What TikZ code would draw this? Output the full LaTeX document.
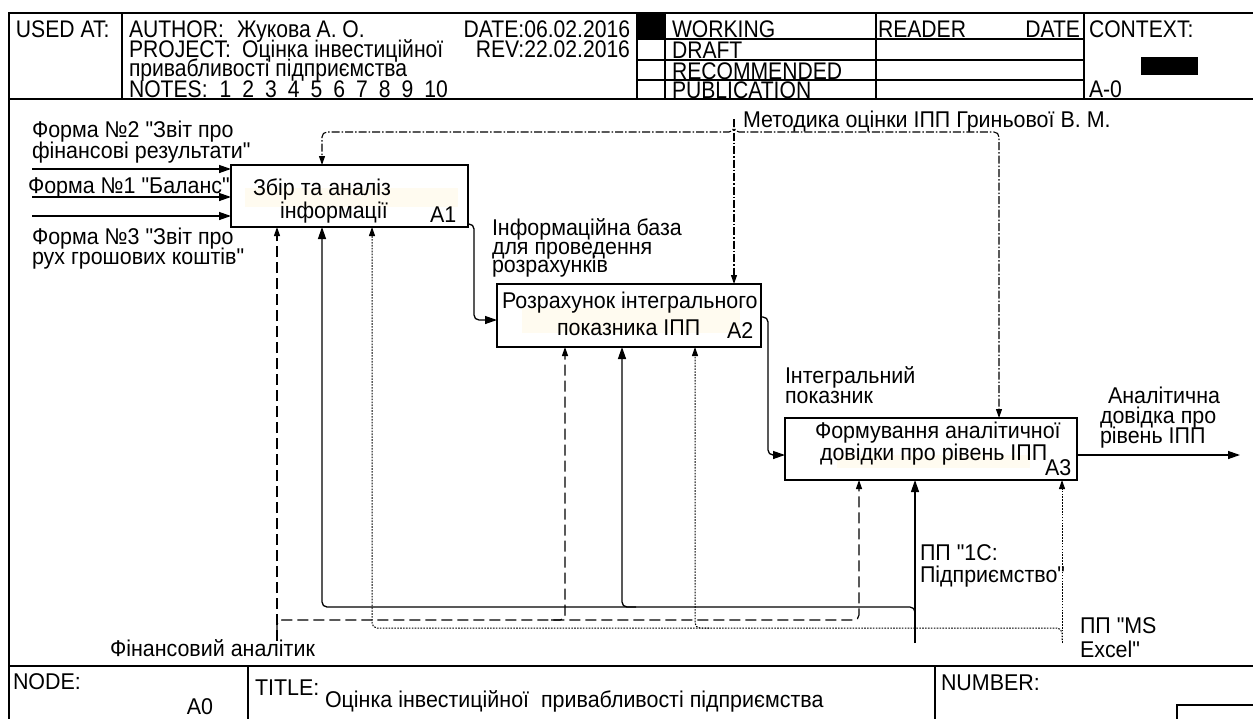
\documentclass[tikz,border=0pt]{standalone}
\usepackage{fontspec}
\setmainfont{Liberation Sans}[Ligatures=TeXOff]
\newfontfamily\mainlab{Liberation Sans}[Ligatures=TeXOff, FakeStretch=0.94]
\newfontfamily\hdrlab{Liberation Sans}[Ligatures=TeXOff, FakeStretch=0.88]
\usetikzlibrary{arrows.meta}
\definecolor{faint}{RGB}{255,251,240}
\begin{document}
\begin{tikzpicture}[x=1pt,y=-1pt,
  frm/.style={line width=1.8pt},
  grid/.style={line width=1.5pt},
  idefbox/.style={draw, line width=1.6pt, fill=white, inner sep=0pt, outer sep=0pt, anchor=north west},
  lbl/.style={anchor=base west, inner sep=0pt, outer sep=0pt, font=\mainlab\fontsize{22.8}{20}\selectfont},
  lble/.style={lbl, anchor=base east},
  hdr/.style={anchor=base west, inner sep=0pt, outer sep=0pt, font=\hdrlab\fontsize{24}{20}\selectfont},
  hdre/.style={hdr, anchor=base east},
  sol/.style={line width=1.3pt, rounded corners=5pt, -{Triangle[length=12pt,width=8pt]}},
  dsh/.style={line width=1.2pt, rounded corners=5pt, dash pattern=on 11pt off 5pt, -{Triangle[length=9pt,width=6pt]}},
  dtt/.style={line width=1pt, rounded corners=5pt, dash pattern=on 1.6pt off 1.3pt, -{Triangle[length=9pt,width=6pt]}},
  ctl/.style={line width=1.1pt, rounded corners=5pt, dash pattern=on 8pt off 2pt on 1.5pt off 2pt, -{Triangle[length=9pt,width=6pt]}}
]
\useasboundingbox (0,0) rectangle (1253,718);
\clip (0,0) rectangle (1253,718);

% ---------- frame ----------
\draw[frm] (9,730) -- (9,13) -- (1270,13);
\draw[frm] (9,99) -- (1270,99);
\draw[frm] (9,666) -- (1270,666);
\foreach \xx in {122,637,665,876,1084} \draw[grid] (\xx,13) -- (\xx,99);
\foreach \yy in {39,60,80} \draw[grid] (637,\yy) -- (1084,\yy);
\fill (637,13) rectangle (665,39);
\fill (1141,57) rectangle (1198,75);
\draw[frm] (248,666) -- (248,730);
\draw[frm] (935,666) -- (935,730);
\draw[grid] (1177,730) -- (1177,705) -- (1270,705);

% ---------- header texts ----------
\node[hdr] (usedat) at (16,37) {USED AT:};
\node[hdr] (author) at (129,37) {AUTHOR:\hspace{13pt}Жукова А. О.};
\node[hdre] (date) at (630,37) {DATE:06.02.2016};
\node[hdr] (project) at (129,57) {PROJECT:\hspace{11pt}Оцінка інвестиційної};
\node[hdre] (rev) at (630,57) {REV:22.02.2016};
\node[hdr] (project2) at (129,76) {привабливості підприємства};
\node[hdr] (notes) at (129,97) {NOTES:\hspace{12pt}1\hspace{11pt}2\hspace{11pt}3\hspace{11pt}4\hspace{11pt}5\hspace{11pt}6\hspace{11pt}7\hspace{11pt}8\hspace{11pt}9\hspace{11pt}10};
\node[hdr] (working) at (672,37) {WORKING};
\node[hdr] (draft) at (672,58) {DRAFT};
\node[hdr] (recom) at (672,79) {RECOMMENDED};
\node[hdr] (public) at (672,98) {PUBLICATION};
\node[hdr] (reader) at (878,37) {READER};
\node[hdre] (rdate) at (1080,37) {DATE};
\node[hdr] (context) at (1089,37) {CONTEXT:};
\node[hdr] (azero) at (1089,97) {A-0};

% ---------- footer texts ----------
\node[lbl] (nodelbl) at (13,689) {NODE:};
\node[lble] (nodeval) at (213,714) {A0};
\node[lbl] (titlelbl) at (255,695) {TITLE:};
\node[lbl] (titleval) at (325,707) {Оцінка інвестиційної\hspace{6pt} привабливості підприємства};
\node[lbl] (number) at (941,690) {NUMBER:};

% ---------- activity boxes ----------
\node[idefbox, minimum width=237pt, minimum height=62pt] (A1) at (231,165) {};
\node[idefbox, minimum width=264pt, minimum height=63pt] (A2) at (497,284) {};
\node[idefbox, minimum width=292pt, minimum height=62pt] (A3) at (785,418) {};
\fill[faint] (245,188) rectangle (458,207);
\fill[faint] (522,308) rectangle (740,333);
\fill[faint] (837,455) rectangle (1030,468);

\node[lbl] (t1a) at (253,195) {Збір та аналіз};
\node[lbl] (t1b) at (280,218) {інформації};
\node[lbl] (n1) at (430,222) {A1};
\node[lbl] (t2a) at (502,308) {Розрахунок інтегрального};
\node[lbl] (t2b) at (557,335) {показника ІПП};
\node[lbl] (n2) at (727,338) {A2};
\node[lbl] (t3a) at (815,438) {Формування аналітичної};
\node[lbl] (t3b) at (820,460) {довідки про рівень ІПП};
\node[lbl] (n3) at (1045,475) {A3};

% ---------- arrow labels ----------
\node[lbl] (f2a) at (32,137) {Форма №2 "Звіт про};
\node[lbl] (f2b) at (32,158) {фінансові результати"};
\node[lbl] (f1) at (28,193) {Форма №1 "Баланс"};
\node[lbl] (f3a) at (32,244) {Форма №3 "Звіт про};
\node[lbl] (f3b) at (32,264) {рух грошових коштів"};
\node[lbl] (iba) at (492,235) {Інформаційна база};
\node[lbl] (ibb) at (492,254) {для проведення};
\node[lbl] (ibc) at (492,272) {розрахунків};
\node[lbl] (meth) at (743,127) {Методика оцінки ІПП Гриньової В. М.};
\node[lbl] (ipa) at (785,383) {Інтегральний};
\node[lbl] (ipb) at (785,403) {показник};
\node[lbl] (ada) at (1108,403) {Аналітична};
\node[lbl] (adb) at (1100,423) {довідка про};
\node[lbl] (adc) at (1100,443) {рівень ІПП};
\node[lbl] (c1a) at (920,560) {ПП "1С:};
\node[lbl] (c1b) at (920,582) {Підприємство"};
\node[lbl] (xla) at (1080,633) {ПП "MS};
\node[lbl] (xlb) at (1080,657) {Excel"};
\node[lbl] (fa) at (110,656) {Фінансовий аналітик};

% ---------- inputs ----------
\coordinate (i1) at (32,169);
\coordinate (i2) at (32,197);
\coordinate (i3) at (32,216);
\draw[sol] (i1) -- (i1 -| A1.west);
\draw[sol] (i2) -- (i2 -| A1.west);
\draw[sol] (i3) -- (i3 -| A1.west);

% ---------- outputs ----------
\coordinate (o1a) at (474,224);
\coordinate (o1b) at (474,320);
\draw[sol] (o1a -| A1.east) -- (o1a) -- (o1b) -- (o1b -| A2.west);
\coordinate (o2a) at (768,317);
\coordinate (o2b) at (768,455);
\draw[sol] (o2a -| A2.east) -- (o2a) -- (o2b) -- (o2b -| A3.west);
\coordinate (out3) at (1240,455);
\draw[sol] (out3 -| A3.east) -- (out3);

% ---------- control ----------
\coordinate (ctop) at (734,119);
\coordinate (cj) at (734,132);
\coordinate (cl) at (322,132);
\coordinate (cr) at (999,132);
\draw[ctl] (ctop) -- (ctop |- A2.north);
\draw[ctl] (ctop) -- (cj) -- (cl) -- (cl |- A1.north);
\draw[ctl] (ctop) -- (cj) -- (cr) -- (cr |- A3.north);

% ---------- mechanism: 1C (solid) ----------
\coordinate (s0) at (915,643);
\coordinate (sb) at (915,622);
\coordinate (sj) at (915,607);
\coordinate (s1) at (322,607);
\coordinate (s2) at (622,607);
\coordinate (s2b) at (636,607);
\draw[sol] (s0) -- (s0 |- A3.south);
\draw[sol] (sb) -- (sj) -- (s1) -- (s1 |- A1.south);
\draw[sol] (s2b) -- (s2) -- (s2 |- A2.south);

% ---------- mechanism: analyst (dashed) ----------
\coordinate (d0) at (277,641);
\coordinate (db) at (277,634);
\coordinate (dj) at (277,620);
\coordinate (d2) at (565,620);
\coordinate (d2b) at (551,620);
\coordinate (d3) at (859,620);
\draw[dsh] (d0) -- (d0 |- A1.south);
\draw[dsh] (db) -- (dj) -- (d3) -- (d3 |- A3.south);
\draw[dsh] (d2b) -- (d2) -- (d2 |- A2.south);

% ---------- mechanism: MS Excel (dotted) ----------
\coordinate (t0) at (1062,643);
\coordinate (tb) at (1062,640);
\coordinate (tj) at (1062,628);
\coordinate (t1) at (372,628);
\coordinate (t2) at (695,628);
\coordinate (t2b) at (709,628);
\draw[dtt] (t0) -- (t0 |- A3.south);
\draw[dtt] (tb) -- (tj) -- (t1) -- (t1 |- A1.south);
\draw[dtt] (t2b) -- (t2) -- (t2 |- A2.south);
\end{tikzpicture}
\end{document}
